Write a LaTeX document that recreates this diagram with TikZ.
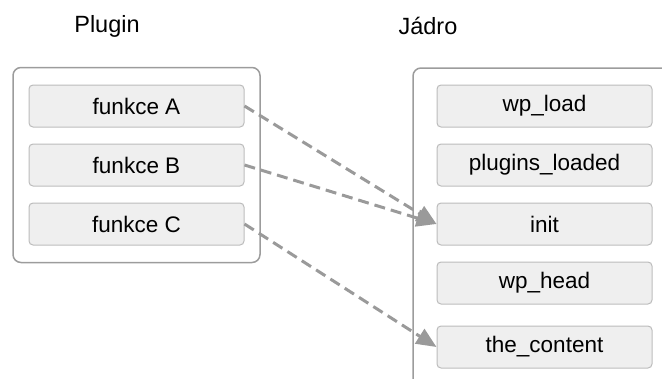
\documentclass[tikz,border=0pt]{standalone}
\usepackage{fontspec}
\setmainfont{Liberation Sans}
\usetikzlibrary{positioning,fit,arrows.meta}
\definecolor{boxfill}{HTML}{EFEFEF}
\definecolor{boxline}{HTML}{BCBCBC}
\definecolor{frameline}{HTML}{9C9C9C}
\definecolor{linkline}{HTML}{9A9A9A}

\begin{document}
\begin{tikzpicture}[x=1pt,y=1pt,
hooknode/.style={rectangle, rounded corners=4pt, draw=boxline, fill=boxfill, line width=1pt,
minimum width=215pt, minimum height=42pt, inner sep=0pt,
font=\fontsize{22.5}{26}\selectfont
},
framenode/.style={rectangle, rounded corners=8pt, draw=frameline, line width=1.5pt
},
titlenode/.style={font=\fontsize{23.5}{27}\selectfont
},
callline/.style={draw=linkline, line width=3pt, dash pattern=on 11pt off 6pt,
-{Triangle[length=20pt,width=17pt]}
}]
\useasboundingbox (0,0) rectangle (662,-378);
\clip (0,0) rectangle (662,-378);
%Titles
\node[titlenode]  (plugtitle)  at (107,-26)  {Plugin};
\node[titlenode]  (coretitle)  at (428,-26)  {Jádro};
%Nodes
\node[hooknode]  (fa)        at (136.5,-106)           {funkce A};
\node[hooknode]  (fb)        [below=16pt of fa]        {funkce B};
\node[hooknode]  (fc)        [below=16pt of fb]        {funkce C};
\node[hooknode]  (load)      at (544.5,-106)           {wp\_load};
\node[hooknode]  (loaded)    [below=16pt of load]      {plugins\_loaded};
\node[hooknode]  (init)      [below=16pt of loaded]    {init};
\node[hooknode]  (head)      [below=16pt of init]      {wp\_head};
\node[hooknode]  (content)   [below=21pt of head]      {the\_content};
%Frames
\node[framenode, fit=(fa)(fc), inner xsep=15.5pt, inner ysep=17pt] (plugin) {};
\draw[frameline, line width=1.5pt, rounded corners=8pt] (413,-420) -- (413,-68) -- (720,-68);
%Lines
\draw[callline] (fa.east) -- (init.west);
\draw[callline] (fb.east) -- (init.west);
\draw[callline] (fc.east) -- (content.west);
\end{tikzpicture}
\end{document}
